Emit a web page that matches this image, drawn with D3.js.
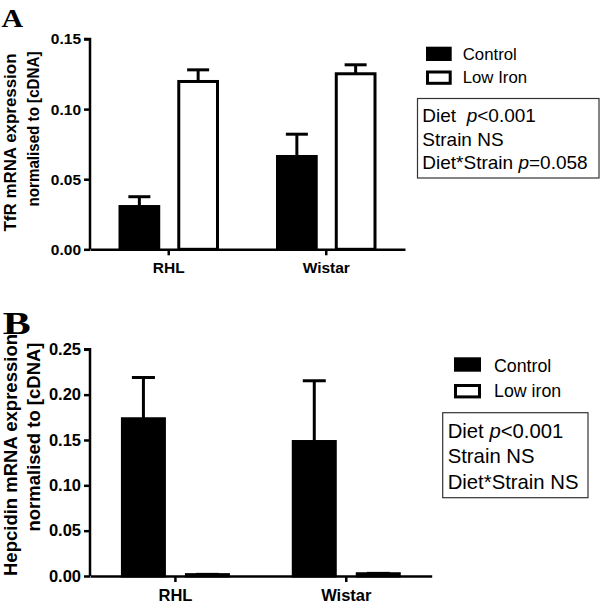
<!DOCTYPE html>
<html><head><meta charset="utf-8">
<script src="https://cdn.jsdelivr.net/npm/d3@7"></script>
<style>
html,body{margin:0;padding:0;background:#fff;}
svg{display:block;}
</style></head>
<body>
<script>
// ---- Data ----
const categories = ["RHL", "Wistar"];
const seriesA = ["Control", "Low Iron"];
const tfrControl = [0.0305, 0.0662];
const tfrControlErr = [0.0070, 0.0159];
const tfrLowIron = [0.1197, 0.1252];
const tfrLowIronErr = [0.0083, 0.0064];
const ticksA = [0.00, 0.05, 0.10, 0.15];
const statsA = [["Diet  ", "p", "<0.001"], ["Strain NS"], ["Diet*Strain ", "p", "=0.058"]];

const seriesB = ["Control", "Low iron"];
const hepControl = [0.1734, 0.1483];
const hepControlErr = [0.0455, 0.0670];
const hepLowIron = [0.0015, 0.0025];
const hepLowIronErr = [0.0003, 0.0004];
const ticksB = [0.00, 0.05, 0.10, 0.15, 0.20, 0.25];
const statsB = [["Diet ", "p", "<0.001"], ["Strain NS"], ["Diet*Strain NS"]];

const SANS = '"Liberation Sans", Arial, Helvetica, sans-serif';
const SERIF = '"Liberation Serif", "Times New Roman", serif';

const svg = d3.select("body").append("svg").attr("width", 600).attr("height", 604);

function panel(cfg) {
  const g = svg.append("g");
  const y = d3.scaleLinear().domain([0, cfg.ymax]).range([cfg.y0, cfg.ytop]);
  const x0 = d3.scaleBand().domain(categories).range([cfg.xl, cfg.xr]);
  const x1 = d3.scaleBand().domain(cfg.series).range([-cfg.half, cfg.half]).paddingInner(cfg.pad);

  const rows = [];
  categories.forEach((c, i) => {
    rows.push({cat: c, s: cfg.series[0], v: cfg.ctrl[i], e: cfg.ctrlErr[i], fill: "#000"});
    rows.push({cat: c, s: cfg.series[1], v: cfg.low[i], e: cfg.lowErr[i], fill: "#fff"});
  });
  const cx = d => x0(d.cat) + x0.bandwidth() / 2 + x1(d.s);
  const sw = 3;

  // error bars
  rows.forEach(d => {
    const xc = cx(d) + x1.bandwidth() / 2;
    g.append("line").attr("x1", xc).attr("x2", xc).attr("y1", y(d.v)).attr("y2", y(d.v + d.e))
      .attr("stroke", "#000").attr("stroke-width", sw);
    g.append("line").attr("x1", xc - cfg.cap / 2).attr("x2", xc + cfg.cap / 2)
      .attr("y1", y(d.v + d.e)).attr("y2", y(d.v + d.e))
      .attr("stroke", "#000").attr("stroke-width", sw);
  });
  // bars
  g.selectAll("rect.bar").data(rows).enter().append("rect").attr("class", "bar")
    .attr("x", d => cx(d) + sw / 2).attr("width", x1.bandwidth() - sw)
    .attr("y", d => y(d.v)).attr("height", d => Math.max(0, y(0) - y(d.v)))
    .attr("fill", d => d.fill).attr("stroke", "#000").attr("stroke-width", sw);

  // y axis
  const ya = d3.axisLeft(y).tickValues(cfg.ticks).tickFormat(d3.format(".2f")).tickSize(6).tickPadding(3);
  const yg = g.append("g").attr("transform", `translate(${cfg.xl},0)`).call(ya);
  yg.select(".domain").attr("stroke-width", 2.5).attr("d", `M-6,${cfg.ytop}H0V${cfg.y0}`);
  yg.selectAll(".tick line").attr("stroke-width", 2.5);
  yg.selectAll(".tick text").style("font-size", cfg.tickFs + "px").style("font-weight", "bold")
    .style("font-family", SANS).attr("fill", "#000");

  // x axis
  const xa = d3.axisBottom(x0).tickSize(6).tickPadding(cfg.xpad).tickSizeOuter(0);
  const xg = g.append("g").attr("transform", `translate(0,${cfg.y0})`).call(xa);
  xg.select(".domain").attr("stroke-width", 2.5);
  xg.selectAll(".tick line").attr("stroke-width", 2.5);
  xg.selectAll(".tick text").style("font-size", cfg.catFs + "px").style("font-weight", "bold")
    .style("font-family", SANS).attr("fill", "#000");

  // y title
  cfg.ytitle.forEach((t, i) => {
    g.append("text").attr("transform", `translate(${cfg.ytx[i]},${cfg.ytc[i]}) rotate(-90)`)
      .attr("text-anchor", "middle").style("font-weight", "bold").style("font-size", cfg.ytFs + "px")
      .style("font-family", SANS)
      .attr("textLength", cfg.ytLen[i]).attr("lengthAdjust", "spacingAndGlyphs")
      .text(t);
  });

  // panel letter
  g.append("text").attr("x", cfg.letter.x).attr("y", cfg.letter.y)
    .style("font-family", SERIF).style("font-weight", "bold")
    .style("font-size", cfg.letter.fs + "px").attr("textLength", cfg.letter.w).attr("lengthAdjust", "spacingAndGlyphs")
    .text(cfg.letter.t);

  // legend
  const L = cfg.legend;
  cfg.series.forEach((s, i) => {
    g.append("rect").attr("x", L.x + 1.5).attr("y", L.ys[i] + 1.5).attr("width", L.w - 3).attr("height", L.h - 3)
      .attr("fill", i === 0 ? "#000" : "#fff").attr("stroke", "#000").attr("stroke-width", 3);
    g.append("text").attr("x", L.tx).attr("y", L.tb[i]).style("font-size", L.fs + "px")
      .style("font-family", SANS).attr("fill", "#000").text(s);
  });

  // stats box
  const B = cfg.box;
  g.append("rect").attr("x", B.x).attr("y", B.y).attr("width", B.w).attr("height", B.h)
    .attr("fill", "#fff").attr("stroke", "#333").attr("stroke-width", 1.2);
  cfg.stats.forEach((parts, i) => {
    const t = g.append("text").attr("x", B.tx).attr("y", B.tb[i]).style("font-size", B.fs + "px")
      .style("font-family", SANS).attr("fill", "#000").style("white-space", "pre");
    parts.forEach(p => {
      t.append("tspan").style("font-style", p === "p" ? "italic" : "normal").text(p);
    });
  });
}

panel({
  ymax: 0.15, y0: 249.3, ytop: 39, xl: 90, xr: 405, half: 50.25, pad: 0.29, cap: 22,
  series: seriesA, ctrl: tfrControl, ctrlErr: tfrControlErr, low: tfrLowIron, lowErr: tfrLowIronErr,
  ticks: ticksA, tickFs: 15.5, catFs: 15.5, xpad: 7,
  ytitle: ["TfR mRNA expression", "normalised to [cDNA]"], ytx: [16, 38.5], ytc: [142.5, 129], ytFs: 17, ytLen: [178, 155],
  letter: {t: "A", x: 1.5, y: 26.7, fs: 25, w: 21.6},
  legend: {x: 426, w: 25.7, h: 14.3, ys: [46.7, 70.5], tx: 462.7, tb: [59.5, 83.3], fs: 16.8},
  box: {x: 417.5, y: 98.5, w: 181.5, h: 79.5, tx: 422.3, tb: [121.7, 145.7, 169], fs: 19},
  stats: statsA
});

panel({
  ymax: 0.25, y0: 576, ytop: 349.3, xl: 90, xr: 431.7, half: 54.5, pad: 0.297, cap: 23,
  series: seriesB, ctrl: hepControl, ctrlErr: hepControlErr, low: hepLowIron, lowErr: hepLowIronErr,
  ticks: ticksB, tickFs: 16.5, catFs: 16.5, xpad: 7,
  ytitle: ["Hepcidin mRNA expression", "normalised to [cDNA]"], ytx: [17, 40], ytc: [455, 437], ytFs: 18.5, ytLen: [242, 189],
  letter: {t: "B", x: 2.7, y: 334.3, fs: 32, w: 28},
  legend: {x: 454, w: 27, h: 14.4, ys: [357.3, 384], tx: 494, tb: [371.7, 397.3], fs: 17.8},
  box: {x: 442.7, y: 412.7, w: 145.3, h: 85, tx: 447.7, tb: [437.7, 463.3, 488.7], fs: 20.3},
  stats: statsB
});
</script>
</body></html>
